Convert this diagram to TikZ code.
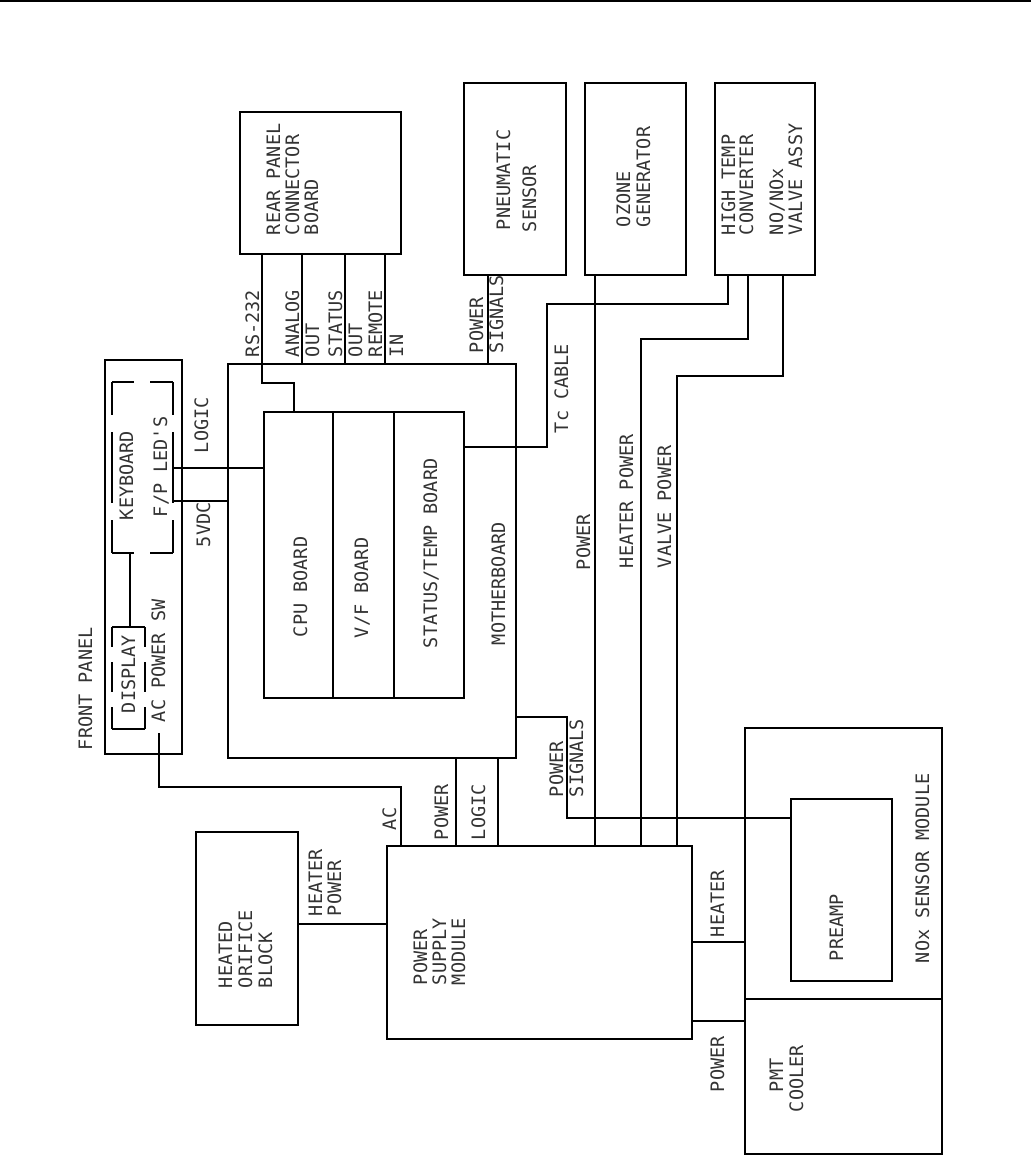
\documentclass[tikz,border=0pt]{standalone}
\usepackage{fontspec}
\newfontfamily\lblfont{DejaVu Sans Mono}
\usetikzlibrary{fit}
\begin{document}
\begin{tikzpicture}[x=1pt,y=-1pt,
  box/.style={draw, line width=1.3pt, inner sep=0pt, outer sep=0pt},
  ghost/.style={inner sep=0pt, outer sep=0pt},
  wire/.style={line width=1.3pt},
  lbl/.style={rotate=90, anchor=base west, inner sep=0pt, outer sep=0pt, text=black!80,
    font=\lblfont\fontsize{18.5}{22}\selectfont}]
\useasboundingbox (0,0) rectangle (1031,1173);
% top rule
\coordinate (tl) at (0,1);
\coordinate (tr) at (1031,1);
\draw[line width=2pt] (tl) -- (tr);

% boxes
\node[box, fit={(105,360) (182,754)}] (front) {};
\node[box, fit={(228,364) (516,758)}] (mother) {};
\node[box, fit={(264,412) (333,698)}] (cpu) {};
\node[box, fit={(333,412) (394,698)}] (vf) {};
\node[box, fit={(394,412) (464,698)}] (stat) {};
\node[box, fit={(240,112) (401,254)}] (rear) {};
\node[box, fit={(464,83) (566,275)}] (pneu) {};
\node[box, fit={(585,83) (686,275)}] (ozone) {};
\node[box, fit={(715,83) (815,275)}] (conv) {};
\node[box, fit={(387,846) (692,1039)}] (psu) {};
\node[box, fit={(196,832) (298,1025)}] (hob) {};
\node[box, fit={(745,728) (942,999)}] (nox) {};
\node[box, fit={(745,999) (942,1154)}] (pmt) {};
\node[box, fit={(791,799) (892,981)}] (preamp) {};
\node[ghost, fit={(112,382) (173,553)}] (kbd) {};
\node[ghost, fit={(112,627) (145,729)}] (disp) {};

% broken outline of keyboard / LED group
\draw[wire] (kbd.north west) -- (134,382) (150,382) -- (kbd.north east);
\draw[wire] (kbd.south west) -- (134,553) (150,553) -- (kbd.south east);
\draw[wire] (kbd.north west) -- (112,415) (112,432) -- (112,503) (112,520) -- (kbd.south west);
\draw[wire] (kbd.north east) -- (173,415) (173,432) -- (173,503) (173,520) -- (kbd.south east);
% broken outline of display
\draw[wire] (disp.north west) -- (disp.north east);
\draw[wire] (disp.south west) -- (disp.south east);
\draw[wire] (disp.north west) -- (112,647) (112,662) -- (112,692) (112,707) -- (disp.south west);
\draw[wire] (disp.north east) -- (145,647) (145,662) -- (145,692) (145,707) -- (disp.south east);

% connectors
\draw[wire] (kbd.south -| 130,0) -- (disp.north -| 130,0);
\coordinate (acsw) at (159,733);
\draw[wire] (acsw) |- (401,787) -- (psu.north -| 401,0);
\draw[wire] (kbd.east |- 0,468) -- (cpu.west |- 0,468);
\draw[wire] (kbd.east |- 0,501) -- (mother.west |- 0,501);
\draw[wire] (rear.south -| 262,0) -- (262,383) -- (294,383) -- (cpu.north -| 294,0);
\draw[wire] (rear.south -| 302,0) -- (mother.north -| 302,0);
\draw[wire] (rear.south -| 345,0) -- (mother.north -| 345,0);
\draw[wire] (rear.south -| 385,0) -- (mother.north -| 385,0);
\draw[wire] (pneu.south -| 488,0) -- (mother.north -| 488,0);
\draw[wire] (stat.east |- 0,447) -- (547,447) -- (547,304) -- (728,304) -- (conv.south -| 728,0);
\draw[wire] (ozone.south -| 595,0) -- (psu.north -| 595,0);
\draw[wire] (conv.south -| 748,0) -- (748,339) -- (641,339) -- (psu.north -| 641,0);
\draw[wire] (conv.south -| 783,0) -- (783,376) -- (677,376) -- (psu.north -| 677,0);
\draw[wire] (mother.east |- 0,717) -- (567,717) -- (567,818) -- (preamp.west |- 0,818);
\draw[wire] (mother.south -| 456,0) -- (psu.north -| 456,0);
\draw[wire] (mother.south -| 498,0) -- (psu.north -| 498,0);
\draw[wire] (hob.east |- 0,924) -- (psu.west |- 0,924);
\draw[wire] (psu.east |- 0,942) -- (nox.west |- 0,942);
\draw[wire] (psu.east |- 0,1021) -- (pmt.west |- 0,1021);

% labels
\node[lbl] (tFront) at (92,750) {FRONT PANEL};
\node[lbl] (tKbd) at (133,520) {KEYBOARD};
\node[lbl] (tLed) at (167,517) {F/P LED'S};
\node[lbl] (tDisp) at (135,713) {DISPLAY};
\node[lbl] (tACSW) at (165,722) {AC POWER SW};
\node[lbl] (tLogicA) at (208,453) {LOGIC};
\node[lbl] (t5V) at (210,547) {5VDC};
\node[lbl] (tRS) at (259,357) {RS-232};
\node[lbl] (tAna) at (299,357) {ANALOG};
\node[lbl] (tOutA) at (319,357) {OUT};
\node[lbl] (tStat) at (342,357) {STATUS};
\node[lbl] (tOutB) at (362,357) {OUT};
\node[lbl] (tRem) at (382,357) {REMOTE};
\node[lbl] (tIn) at (403,357) {IN};
\node[lbl] (tRearA) at (280,235) {REAR PANEL};
\node[lbl] (tRearB) at (299,235) {CONNECTOR};
\node[lbl] (tRearC) at (318,235) {BOARD};
\node[lbl] (tPneuA) at (510,230) {PNEUMATIC};
\node[lbl] (tPneuB) at (536,232) {SENSOR};
\node[lbl] (tOzA) at (630,227) {OZONE};
\node[lbl] (tOzB) at (650,227) {GENERATOR};
\node[lbl] (tConvA) at (735,235) {HIGH TEMP};
\node[lbl] (tConvB) at (753,235) {CONVERTER};
\node[lbl] (tConvC) at (783,235) {NO/NOx};
\node[lbl] (tConvD) at (802,235) {VALVE ASSY};
\node[lbl] (tPwrA) at (483,353) {POWER};
\node[lbl] (tSigA) at (503,353) {SIGNALS};
\node[lbl] (tTc) at (568,433) {Tc CABLE};
\node[lbl] (tPwrOz) at (590,570) {POWER};
\node[lbl] (tHtPwr) at (633,568) {HEATER POWER};
\node[lbl] (tVlvPwr) at (671,568) {VALVE POWER};
\node[lbl] (tCpu) at (307,637) {CPU BOARD};
\node[lbl] (tVf) at (368,638) {V/F BOARD};
\node[lbl] (tStatB) at (437,648) {STATUS/TEMP BOARD};
\node[lbl] (tMother) at (505,645) {MOTHERBOARD};
\node[lbl] (tPwrB) at (563,797) {POWER};
\node[lbl] (tSigB) at (583,797) {SIGNALS};
\node[lbl] (tAC) at (396,830) {AC};
\node[lbl] (tPwrC) at (448,840) {POWER};
\node[lbl] (tLogicB) at (485,840) {LOGIC};
\node[lbl] (tHobA) at (322,916) {HEATER};
\node[lbl] (tHobB) at (341,916) {POWER};
\node[lbl] (tHeated) at (232,988) {HEATED};
\node[lbl] (tOrifice) at (252,988) {ORIFICE};
\node[lbl] (tBlock) at (272,988) {BLOCK};
\node[lbl] (tPsuA) at (427,985) {POWER};
\node[lbl] (tPsuB) at (446,985) {SUPPLY};
\node[lbl] (tPsuC) at (465,985) {MODULE};
\node[lbl] (tHeater) at (724,937) {HEATER};
\node[lbl] (tPwrD) at (724,1092) {POWER};
\node[lbl] (tPre) at (843,961) {PREAMP};
\node[lbl] (tNox) at (929,963) {NOx SENSOR MODULE};
\node[lbl] (tPmtA) at (783,1092) {PMT};
\node[lbl] (tPmtB) at (803,1112) {COOLER};
\end{tikzpicture}
\end{document}
